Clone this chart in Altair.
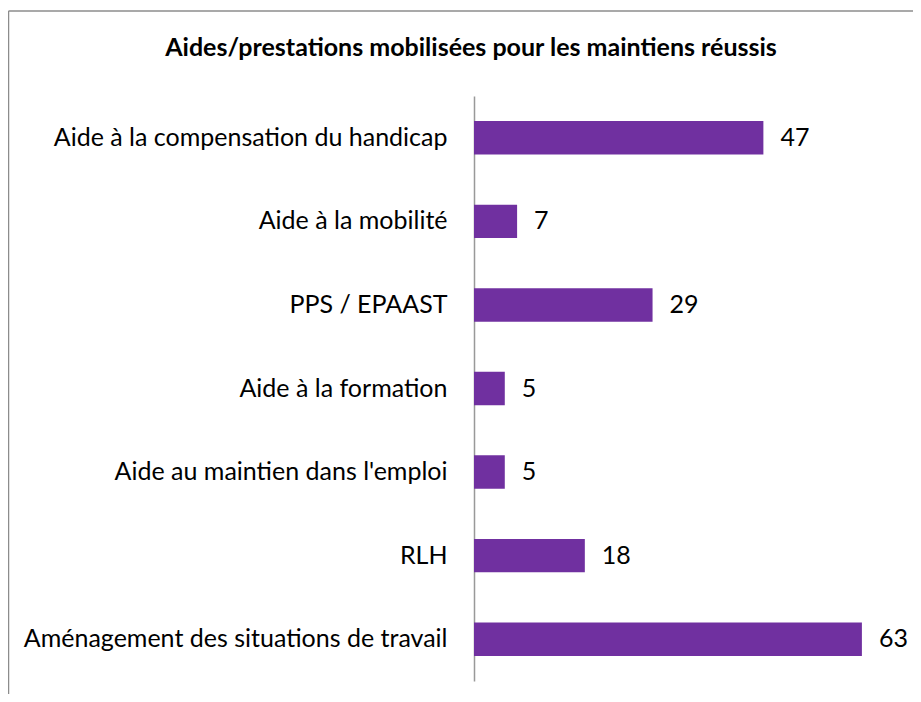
import altair as alt
import pandas as pd

categories = [
    "Aide à la compensation du handicap",
    "Aide à la mobilité",
    "PPS / EPAAST",
    "Aide à la formation",
    "Aide au maintien dans l'emploi",
    "RLH",
    "Aménagement des situations de travail",
]
values = [47, 7, 29, 5, 5, 18, 63]
title_text = ["Aides/prestations mobilisées pour les maintiens réussis"]

df = pd.DataFrame({"cat": categories, "val": values})
df_title = pd.DataFrame({"t": title_text})

FONT = "Lato"
PURPLE = "#7030A0"
FS = 25

y_enc = alt.Y(
    "cat:N",
    sort=categories,
    scale=alt.Scale(paddingInner=0.6, paddingOuter=0.3),
    axis=alt.Axis(
        title=None,
        ticks=False,
        tickSize=0,
        labelPadding=27,
        labelFontSize=FS,
        labelFont=FONT,
        labelFontWeight="normal",
        labelColor="#000000",
        labelLimit=460,
        domainColor="#999999",
        domainWidth=1.5,
        grid=False,
    ),
)
x_enc = alt.X("val:Q", scale=alt.Scale(domain=[0, 70]), axis=None)

bars = alt.Chart(df).mark_bar(color=PURPLE).encode(x=x_enc, y=y_enc)
texts = alt.Chart(df).mark_text(
    align="left", baseline="middle", dx=17, fontSize=FS, font=FONT, color="#000000"
).encode(x=x_enc, y=alt.Y("cat:N", sort=categories), text="val:Q")

title = alt.Chart(df_title).mark_text(
    align="center", baseline="alphabetic", fontSize=25, font=FONT,
    fontWeight="bold", color="#000000"
).encode(x=alt.value(-3), y=alt.value(-40), text="t:N")

border_left = alt.Chart(df_title).mark_rule(color="#8c8c8c", strokeWidth=1.5).encode(
    x=alt.value(-465.5), y=alt.value(-85), y2=alt.value(700)
)
border_top = alt.Chart(df_title).mark_rule(color="#8c8c8c", strokeWidth=1.5).encode(
    x=alt.value(-465.5), x2=alt.value(500), y=alt.value(-85)
)

chart = (
    alt.layer(border_left, border_top, title, bars, texts)
    .properties(
        width=431,
        height=585,
        autosize=alt.AutoSizeParams(type="none"),
        padding={"left": 466, "top": 88, "right": 8, "bottom": 13},
    )
    .configure_view(stroke=None)
)

chart.save("out.html", embed_options={"renderer": "svg", "actions": False})
